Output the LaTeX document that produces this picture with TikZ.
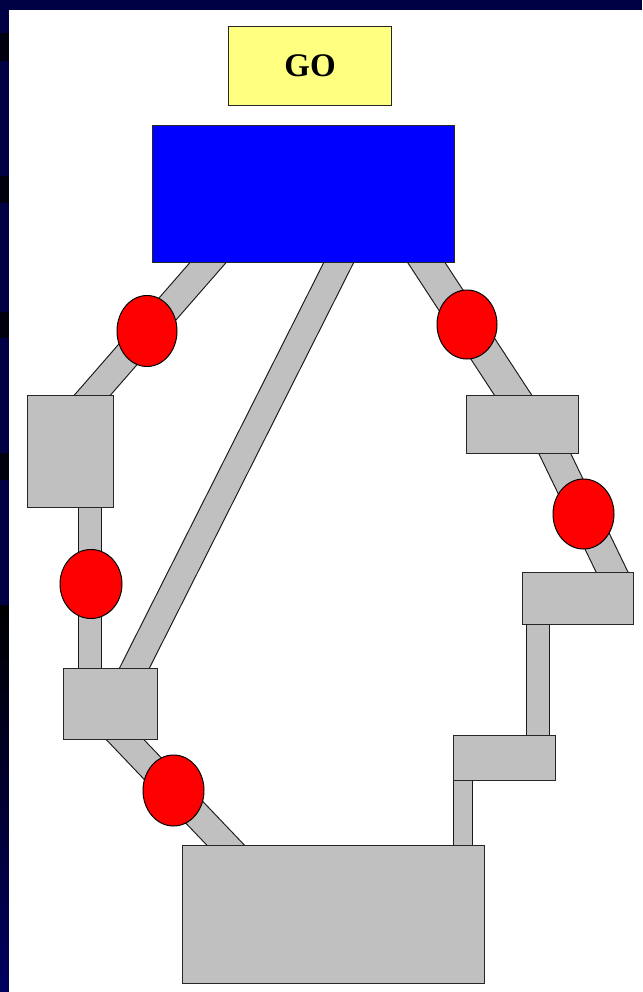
\documentclass[tikz,border=0pt]{standalone}
\usepackage{fontspec}
\setmainfont{Liberation Serif}
\usetikzlibrary{shapes.geometric,calc}
\pgfdeclarelayer{background}
\pgfsetlayers{background,main}
\definecolor{navy}{RGB}{0,0,68}
\definecolor{navydeep}{RGB}{0,0,96}
\definecolor{darkpatch}{RGB}{0,0,14}
\definecolor{bandgray}{RGB}{192,192,192}
\definecolor{goyellow}{RGB}{255,255,128}
\definecolor{pureblue}{RGB}{0,0,255}
\definecolor{purered}{RGB}{255,0,0}
\begin{document}
\begin{tikzpicture}[x=1pt,y=-1pt,
  blockbox/.style={draw=black!85, line width=1.3pt, fill=bandgray, inner sep=0pt, anchor=north west},
  redball/.style={ellipse, draw=black, line width=1pt, fill=purered, inner sep=0pt, minimum width=61pt, minimum height=70pt},
  band/.style={double=bandgray, double distance=#1, line width=1.1pt, draw=black!90},
  bandext/.style={shorten <=-16pt, shorten >=-16pt},
  vbandext/.style={shorten <=-6pt, shorten >=-6pt}
]
\useasboundingbox (0,0) rectangle (642,992);

% boxes
\node[blockbox, fill=goyellow, minimum width=163pt, minimum height=79pt, font=\fontsize{33}{33}\selectfont\bfseries] (go) at (228,26) {GO};
\node[blockbox, fill=pureblue, minimum width=302pt, minimum height=137pt] (blue) at (152,125) {};
\node[blockbox, minimum width=86pt, minimum height=112pt] (L1) at (27,395) {};
\node[blockbox, minimum width=94pt, minimum height=71pt] (L2) at (63,668) {};
\node[blockbox, minimum width=112pt, minimum height=58pt] (R1) at (466,395) {};
\node[blockbox, minimum width=111pt, minimum height=52pt] (R2) at (522,572) {};
\node[blockbox, minimum width=102pt, minimum height=45pt] (R3) at (453,735) {};
\node[blockbox, minimum width=302pt, minimum height=138pt] (big) at (182,845) {};

% band end points
\coordinate (a1) at (208.5,262); \coordinate (a2) at (92.5,395);
\coordinate (b1) at (90,507);    \coordinate (b2) at (90,668);
\coordinate (c1) at (339,262);   \coordinate (c2) at (134.5,668);
\coordinate (d1) at (124.5,739); \coordinate (d2) at (225.5,845);
\coordinate (e1) at (426,262);   \coordinate (e2) at (513,395);
\coordinate (f1) at (554.5,453); \coordinate (f2) at (612,572);
\coordinate (g1) at (538,624);   \coordinate (g2) at (538,735);
\coordinate (h1) at (463,780);   \coordinate (h2) at (463,845);

% red balls
\node[redball, minimum width=60pt, minimum height=71pt] (k1) at (147,331) {};
\node[redball, minimum width=62pt, minimum height=69pt] (k2) at (91,584) {};
\node[redball, minimum width=61pt, minimum height=71pt] (k3) at (173.5,790.5) {};
\node[redball, minimum width=60pt, minimum height=69pt] (k4) at (467,324.5) {};
\node[redball, minimum width=61pt, minimum height=70pt] (k5) at (583.5,514) {};

\begin{pgfonlayer}{background}
  % page
  \fill[navy] (0,0) rectangle (642,992);
  \fill[darkpatch] (0,33) rectangle (9,61);
  \fill[darkpatch] (0,176) rectangle (9,203);
  \fill[darkpatch] (0,312) rectangle (9,338);
  \fill[darkpatch] (0,453) rectangle (9,480);
  \shade[top color=black, bottom color=navydeep] (0,605) rectangle (9,992);
  \fill[white] (9,10) rectangle (642,992);
  % bands
  \draw[band=26pt, bandext] (a1) -- (a2);
  \draw[band=21.9pt, vbandext] (b1) -- (b2);
  \draw[band=25.5pt, bandext] (c1) -- (c2);
  \draw[band=26pt, bandext] (d1) -- (d2);
  \draw[band=30pt, bandext] (e1) -- (e2);
  \draw[band=27.5pt, bandext] (f1) -- (f2);
  \draw[band=21.9pt, vbandext] (g1) -- (g2);
  \draw[band=17.9pt, vbandext] (h1) -- (h2);
\end{pgfonlayer}
\end{tikzpicture}
\end{document}
